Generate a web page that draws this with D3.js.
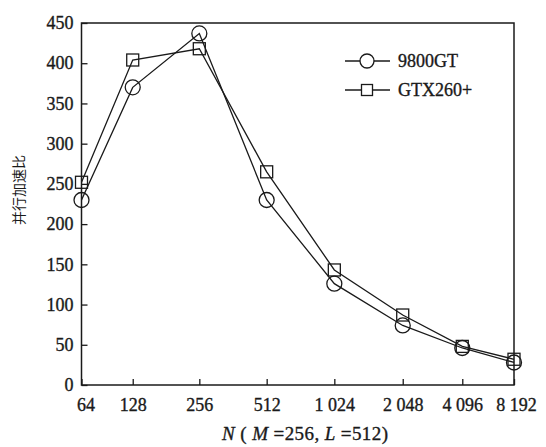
<!DOCTYPE html>
<html>
<head>
<meta charset="utf-8">
<script src="https://cdn.jsdelivr.net/npm/d3@7/dist/d3.min.js"></script>
<style>
  html, body { margin: 0; padding: 0; background: #fff; }
  svg { display: block; }
  text { font-family: "Liberation Serif", "DejaVu Serif", serif; fill: #1a1a1a; }
</style>
</head>
<body>
<svg id="chart" width="546" height="447"></svg>
<script>
// Problem size N (x-axis categories)
const categories = ["64", "128", "256", "512", "1 024", "2 048", "4 096", "8 192"];
// Parallel speed-up per GPU
const series9800GT = [230, 370, 437, 230, 126, 74, 46, 28];
const seriesGTX260 = [252, 404, 418, 265, 143, 87, 48, 32];
const yTicks = [0, 50, 100, 150, 200, 250, 300, 350, 400, 450];
const seriesNames = ["9800GT", "GTX260+"];

// The printed axis spaces the categories slightly unevenly; these are the
// axis stops (in category units) at which each tick sits.
const axisStops = [0, 0.829, 1.907, 2.997, 4.092, 5.199, 6.163, 7];

const svg = d3.select("#chart");
const ink = "#1a1a1a";
const box = { left: 81.5, right: 514, top: 23, bottom: 385 };

const x = d3.scaleLinear().domain([0, 7]).range([box.left, box.right]);
const y = d3.scaleLinear().domain([0, 450]).range([box.bottom, box.top]);
const xPos = i => x(axisStops[i]);

// Frame
svg.append("rect")
  .attr("x", box.left).attr("y", box.top)
  .attr("width", box.right - box.left).attr("height", box.bottom - box.top)
  .attr("fill", "none").attr("stroke", ink).attr("stroke-width", 1.5);

// Slightly heavier serif text
function inked(sel) {
  sel.attr("stroke", ink).attr("stroke-width", 0.35).attr("fill", ink);
}

// Y axis (ticks point inward)
const yAxis = d3.axisLeft(y).tickValues(yTicks).tickSize(-6).tickPadding(14);
const gy = svg.append("g").attr("transform", `translate(${box.left},0)`).call(yAxis);
gy.select(".domain").remove();
gy.selectAll(".tick line").attr("stroke", ink).attr("stroke-width", 1.3);
gy.selectAll(".tick text")
  .attr("font-family", "Liberation Serif, serif").attr("font-size", 18)
  .attr("x", -8).call(inked);

// X axis (ticks point inward)
const xAxis = d3.axisBottom(x).tickValues(axisStops)
  .tickFormat((d, i) => categories[i]).tickSize(-6).tickPadding(12);
const gx = svg.append("g").attr("transform", `translate(0,${box.bottom})`).call(xAxis);
gx.select(".domain").remove();
gx.selectAll(".tick line").attr("stroke", ink).attr("stroke-width", 1.3);
gx.selectAll(".tick text")
  .attr("font-family", "Liberation Serif, serif").attr("font-size", 18)
  .attr("dy", "0.75em").call(inked);
gx.selectAll(".tick").filter((d, i) => i === 0).select("text").attr("dx", 4);
gx.selectAll(".tick").filter((d, i) => i === categories.length - 1).select("text").attr("dx", 2);

// Axis titles
svg.append("text")
  .attr("transform", "translate(24,190) rotate(-90)")
  .attr("text-anchor", "middle")
  .style("font-family", "'Noto Sans CJK SC', sans-serif")
  .attr("font-size", 14)
  .text("并行加速比");

const xt = svg.append("text").attr("x", 222).attr("y", 440)
  .attr("font-size", 19).attr("textLength", 166).attr("lengthAdjust", "spacing")
  .call(inked);
xt.append("tspan").attr("font-style", "italic").text("N");
xt.append("tspan").text(" ( ");
xt.append("tspan").attr("font-style", "italic").text("M");
xt.append("tspan").text(" =256, ");
xt.append("tspan").attr("font-style", "italic").text("L");
xt.append("tspan").text(" =512)");

// Lines
const line = d3.line().x((d, i) => xPos(i)).y(d => y(d));
[series9800GT, seriesGTX260].forEach(vals => {
  svg.append("path").datum(vals).attr("d", line)
    .attr("fill", "none").attr("stroke", ink).attr("stroke-width", 1.3);
});

// Markers
const r = 7.5, s = 12;
svg.append("g").selectAll("circle").data(series9800GT).join("circle")
  .attr("cx", (d, i) => xPos(i)).attr("cy", d => y(d)).attr("r", r)
  .attr("fill", "none").attr("stroke", ink).attr("stroke-width", 1.3);
svg.append("g").selectAll("rect").data(seriesGTX260).join("rect")
  .attr("x", (d, i) => xPos(i) - s / 2).attr("y", d => y(d) - s / 2)
  .attr("width", s).attr("height", s)
  .attr("fill", "none").attr("stroke", ink).attr("stroke-width", 1.3);

// Legend
const leg = svg.append("g");
const legRows = [61, 90];
seriesNames.forEach((name, i) => {
  const ly = legRows[i];
  leg.append("line").attr("x1", 345).attr("x2", 390).attr("y1", ly).attr("y2", ly)
    .attr("stroke", ink).attr("stroke-width", 1.3);
  if (i === 0) {
    leg.append("circle").attr("cx", 367).attr("cy", ly).attr("r", 7)
      .attr("fill", "#fff").attr("stroke", ink).attr("stroke-width", 1.3);
  } else {
    leg.append("rect").attr("x", 367 - 5.5).attr("y", ly - 5.5).attr("width", 11).attr("height", 11)
      .attr("fill", "#fff").attr("stroke", ink).attr("stroke-width", 1.3);
  }
  leg.append("text").attr("x", 398).attr("y", ly + 6).attr("font-size", 18).call(inked).text(name);
});
</script>
</body>
</html>
